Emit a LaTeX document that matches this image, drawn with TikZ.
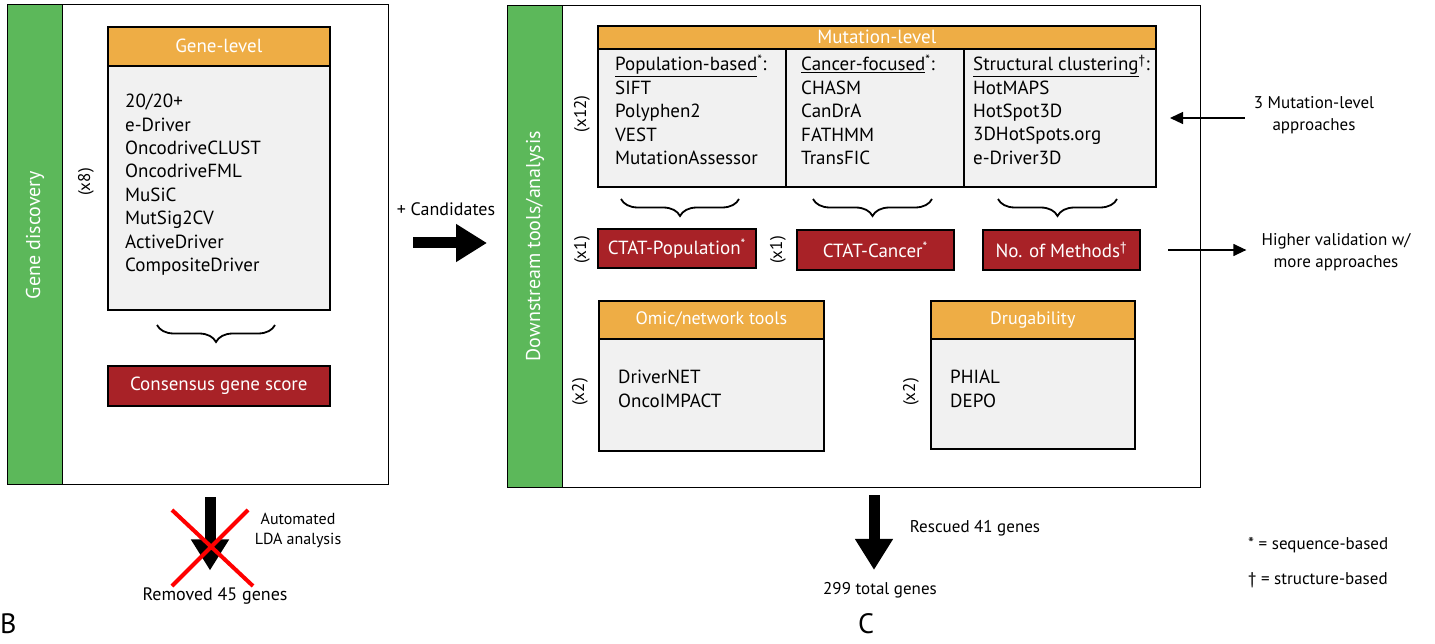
\documentclass[tikz,border=0pt]{standalone}
\usepackage{fontspec}
\setmainfont{PT Sans}
\usetikzlibrary{arrows.meta,decorations.pathreplacing}
\definecolor{panelgreen}{HTML}{5CB85A}
\definecolor{headorange}{HTML}{EEAD45}
\definecolor{scorered}{HTML}{A82227}
\definecolor{listgray}{HTML}{F1F1F1}

\begin{document}
\begin{tikzpicture}[x=1pt,y=-1pt,
    panel/.style ={draw, line width=1.3pt, anchor=north west, inner sep=0pt},
    strip/.style ={draw, line width=1.3pt, fill=panelgreen, anchor=north west, inner sep=0pt},
    listbox/.style ={draw, line width=1.6pt, fill=listgray, anchor=north west, inner sep=0pt},
    head/.style ={draw, line width=1.6pt, fill=headorange, text=white, anchor=north west, inner sep=0pt,
      font=\fontsize{19}{20}\selectfont},
    score/.style ={draw, line width=1.6pt, fill=scorered, text=white, anchor=north west, inner sep=0pt,
      font=\fontsize{19}{20}\selectfont},
    items/.style ={align=left, anchor=north west, inner sep=0pt, font=\fontsize{19}{23.4}\selectfont},
    count/.style ={rotate=90, inner sep=0pt, font=\fontsize{17}{18}\selectfont},
    note/.style ={align=center, inner sep=0pt, font=\fontsize{17}{22}\selectfont},
    brace/.style ={decorate, decoration={brace, mirror, amplitude=17pt, aspect=0.5}, line width=1.8pt},
    fat/.style ={line width=11pt, -{Triangle[length=31pt, width=36pt]}},
    slim/.style ={line width=1.3pt, -{Triangle[length=13pt, width=12pt]}}]
  \useasboundingbox (0,0) rectangle (1435,644);

  % gene discovery panel
  \node[panel, minimum width=381pt, minimum height=480pt] (left) at (7,4) {};
  \node[strip, minimum width=55pt, minimum height=480pt] (leftStrip) at (7,4) {};
  \node[rotate=90, text=white, font=\fontsize{20}{22}\selectfont] (geneDisc) at (35,235) {Gene discovery};
  \node[count] (cntGene) at (86,182) {(x8)};
  \node[listbox, minimum width=222pt, minimum height=283pt] (geneBox) at (107,26) {};
  \node[head, minimum width=222pt, minimum height=39pt] (geneHead) at (107,26) {Gene-level};
  \node[items] (geneList) at (125,94) {20/20+\\e-Driver\\OncodriveCLUST\\OncodriveFML\\MuSiC\\MutSig2CV\\ActiveDriver\\CompositeDriver};
  \draw[brace] (157,325) -- (275,325);
  \node[score, minimum width=222pt, minimum height=40pt] (consensus) at (107,365) {Consensus gene score};

  % downstream panel
  \node[panel, minimum width=693pt, minimum height=482pt] (right) at (507,5) {};
  \node[strip, minimum width=55pt, minimum height=482pt] (rightStrip) at (507,5) {};
  \node[rotate=90, text=white, font=\fontsize{20}{22}\selectfont] (downstream) at (535,246) {Downstream tools/analysis};

  \node[count] (cntMut) at (582,114) {(x12)};
  \node[listbox, minimum width=188pt, minimum height=161pt] (colPop) at (597,25) {};
  \node[listbox, minimum width=178pt, minimum height=161pt] (colCan) at (785,25) {};
  \node[listbox, minimum width=192pt, minimum height=161pt] (colStr) at (963,25) {};
  \node[head, minimum width=558pt, minimum height=23pt] (mutHead) at (597,25) {Mutation-level};
  \node[items] (popList) at (615,55) {\underline{Population-based}\textsuperscript{*}:\\SIFT\\Polyphen2\\VEST\\MutationAssessor};
  \node[items] (canList) at (801,55) {\underline{Cancer-focused}\textsuperscript{*}:\\CHASM\\CanDrA\\FATHMM\\TransFIC};
  \node[items] (strList) at (973,55) {\underline{Structural clustering}\textsuperscript{†}:\\HotMAPS\\HotSpot3D\\3DHotSpots.org\\e-Driver3D};

  \draw[brace] (621,199) -- (739,199);
  \draw[brace] (813,199) -- (932,199);
  \draw[brace] (998,199) -- (1117,199);

  \node[count] (cntPop) at (582,250) {(x1)};
  \node[count] (cntCan) at (778,250) {(x1)};
  \node[score, minimum width=158pt, minimum height=39pt] (ctatPop) at (597,228) {CTAT-Population\textsuperscript{*}};
  \node[score, minimum width=157pt, minimum height=40pt] (ctatCan) at (796,229) {CTAT-Cancer\textsuperscript{*}};
  \node[score, minimum width=157pt, minimum height=40pt] (nMethods) at (982,229) {No. of Methods\textsuperscript{†}};

  \node[count] (cntOmic) at (580,392) {(x2)};
  \node[listbox, minimum width=225pt, minimum height=150pt] (omicBox) at (598,300) {};
  \node[head, minimum width=225pt, minimum height=38pt, font=\fontsize{18}{20}\selectfont] (omicHead) at (598,300) {Omic/network tools};
  \node[items] (omicList) at (618,370) {DriverNET\\OncoIMPACT};

  \node[count] (cntDrug) at (911,392) {(x2)};
  \node[listbox, minimum width=204pt, minimum height=148pt] (drugBox) at (930,300) {};
  \node[head, minimum width=204pt, minimum height=38pt, font=\fontsize{18}{20}\selectfont] (drugHead) at (930,300) {Drugability};
  \node[items] (drugList) at (950,370) {PHIAL\\DEPO};

  % side notes
  \node[note] (mutNote) at (1314,115) {3 Mutation-level\\approaches};
  \coordinate (mutTip) at (1170,118);
  \draw[slim] ([xshift=-9pt]mutNote.west |- mutTip) -- (mutTip);
  \node[note] (hiNote) at (1336,252) {Higher validation w/\\more approaches};
  \coordinate (hiTail) at (1168,250);
  \draw[slim] (hiTail) -- ([xshift=-15pt]hiNote.west |- hiTail);

  % flow between panels
  \node[note, font=\fontsize{18}{20}\selectfont] (cand) at (446,209) {+ Candidates};
  \coordinate (candTail) at (413,243);
  \coordinate (candTip) at (487,243);
  \draw[fat] (candTail) -- (candTip);

  \coordinate (lda) at (210,497);
  \node[note, font=\fontsize{18}{20}\selectfont] (removed) at (215,596) {Removed 45 genes};
  \draw[fat] (lda) -- ([yshift=17pt]removed.north -| lda);
  \draw[red, line width=4pt] (172,510) -- (253,586) (248,510) -- (172,586);
  \node[note, font=\fontsize{16}{20}\selectfont] (ldaNote) at (298,530) {Automated\\LDA analysis};

  \coordinate (rescue) at (874,495);
  \node[note, font=\fontsize{17}{20}\selectfont] (total) at (880,590) {299 total genes};
  \draw[fat] (rescue) -- ([yshift=12pt]total.north -| rescue);
  \node[note, font=\fontsize{17}{20}\selectfont] (rescued) at (975,528) {Rescued 41 genes};

  % legend and panel letters
  \node[note, anchor=west] (seqNote) at (1248,545) {* = sequence-based};
  \node[note, anchor=west] (strNote) at (1248,580) {† = structure-based};
  \node[anchor=west, inner sep=0pt, font=\fontsize{28}{30}\selectfont] (panelB) at (0,624) {B};
  \node[inner sep=0pt, font=\fontsize{28}{30}\selectfont] (panelC) at (866,624) {C};
\end{tikzpicture}
\end{document}
